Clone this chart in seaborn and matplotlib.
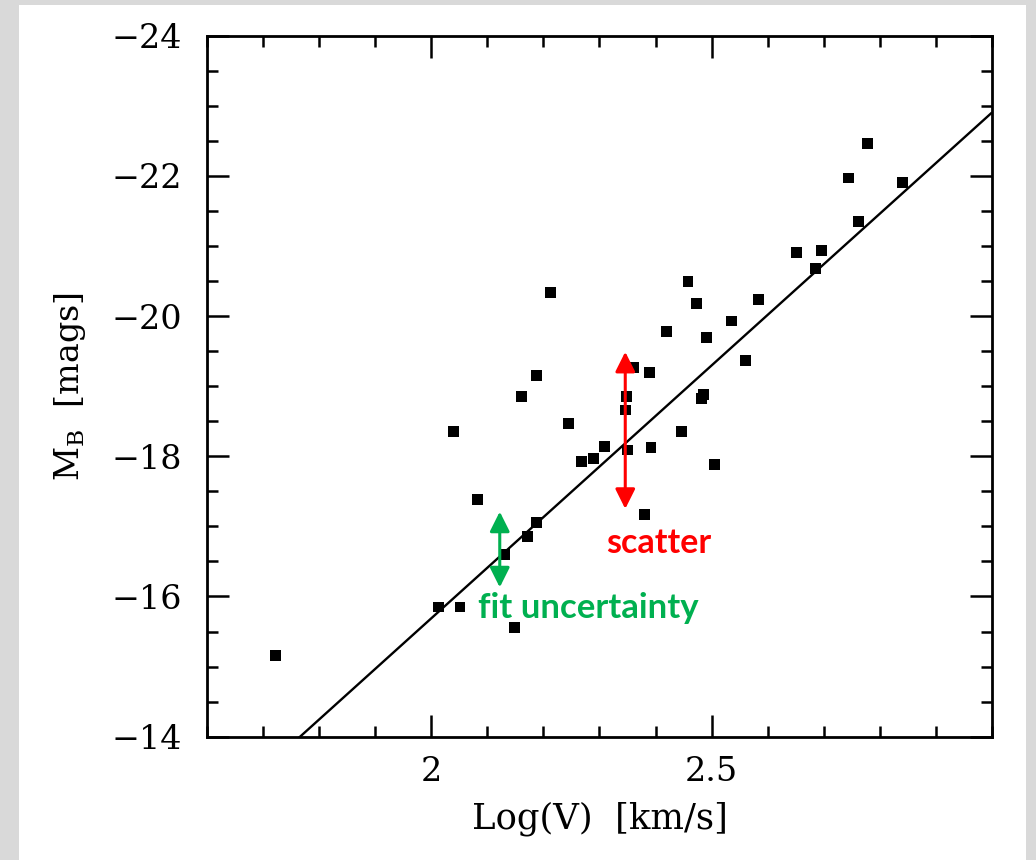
import numpy as np
import pandas as pd
import matplotlib
matplotlib.use("Agg")
import matplotlib.pyplot as plt
from matplotlib.ticker import MultipleLocator, FixedLocator, FixedFormatter
from matplotlib.patches import Rectangle
import seaborn as sns

# ---- data ----
log_v = [1.722, 2.187, 2.161, 2.244, 2.040, 2.268, 2.083, 2.187, 2.172, 2.131,
         2.012, 2.051, 2.148, 2.212, 2.779, 2.745, 2.841, 2.763, 2.652, 2.696,
         2.685, 2.458, 2.474, 2.583, 2.419, 2.535, 2.491, 2.560, 2.361, 2.389,
         2.349, 2.346, 2.486, 2.482, 2.447, 2.309, 2.289, 2.350, 2.392, 2.506,
         2.380]
mag_b = [-15.16, -19.15, -18.85, -18.47, -18.35, -17.93, -17.38, -17.06, -16.85, -16.60,
         -15.85, -15.85, -15.56, -20.33, -22.46, -21.97, -21.91, -21.35, -20.91, -20.93,
         -20.68, -20.49, -20.18, -20.23, -19.78, -19.93, -19.70, -19.37, -19.26, -19.20,
         -18.85, -18.66, -18.88, -18.82, -18.36, -18.14, -17.97, -18.09, -18.12, -17.88,
         -17.17]

fit_slope = -7.21
fit_intercept = -1.27

x_limits = [1.6, 3.0]
y_limits = [-14, -24]
x_major_ticks = [2.0, 2.5]
x_tick_labels = ["2", "2.5"]
y_major_ticks = [-24, -22, -20, -18, -16, -14]
y_tick_labels = ["\u221224", "\u221222", "\u221220", "\u221218", "\u221216", "\u221214"]

scatter_arrow_x = 2.346
scatter_arrow_y = [-17.25, -19.49]
scatter_label = "scatter"
scatter_label_pos = [2.405, -16.62]

fit_arrow_x = 2.122
fit_arrow_y = [-16.13, -17.21]
fit_label = "fit uncertainty"
fit_label_pos = [2.083, -15.69]

red = "#ff0000"
green = "#00b050"

# ---- figure ----
sns.set_theme(style="ticks")
plt.rcParams["font.family"] = ["DejaVu Serif"]
plt.rcParams["mathtext.fontset"] = "dejavuserif"

fig = plt.figure(figsize=(10.36, 8.6), dpi=100)
fig.patch.set_facecolor("#d9d9d9")
fig.patches.append(Rectangle((19 / 1036, 0), (1026 - 19) / 1036, 1 - 5 / 860,
                             transform=fig.transFigure, facecolor="white",
                             edgecolor="none", zorder=-10))

ax = fig.add_axes([0.2001, 0.1434, 0.7571, 0.8151])
ax.set_facecolor("white")

df = pd.DataFrame({"logv": log_v, "mb": mag_b})
sns.scatterplot(data=df, x="logv", y="mb", ax=ax, marker="s", s=62,
                color="black", edgecolor="none", linewidth=0, zorder=3)

line_x = np.array(x_limits)
line_df = pd.DataFrame({"x": line_x, "y": fit_intercept + fit_slope * line_x})
sns.lineplot(data=line_df, x="x", y="y", ax=ax, color="black", lw=1.7, zorder=2)

ax.set_xlim(*x_limits)
ax.set_ylim(*y_limits)

ax.xaxis.set_major_locator(FixedLocator(x_major_ticks))
ax.xaxis.set_major_formatter(FixedFormatter(x_tick_labels))
ax.xaxis.set_minor_locator(MultipleLocator(0.1))
ax.yaxis.set_major_locator(FixedLocator(y_major_ticks))
ax.yaxis.set_major_formatter(FixedFormatter(y_tick_labels))
ax.yaxis.set_minor_locator(MultipleLocator(0.5))

ax.tick_params(which="both", direction="in", top=True, right=True,
               color="black", width=1.8)
ax.tick_params(which="major", length=16)
ax.tick_params(which="minor", length=8)
ax.tick_params(axis="y", which="major", pad=18, labelsize=24, labelcolor="black")
ax.tick_params(axis="x", which="major", pad=14, labelsize=24, labelcolor="black")

for sp in ax.spines.values():
    sp.set_linewidth(2.0)
    sp.set_color("black")

ax.set_xlabel("Log(V)  [km/s]", fontsize=25.5, color="black")
ax.set_ylabel(r"M$_\mathregular{B}$  [mags]", fontsize=24, color="black")
ax.xaxis.set_label_coords(0.5, -0.093)
ax.yaxis.set_label_coords(-0.152, 0.5)

# annotations
arrow_style = "<|-|>,head_length=0.6,head_width=0.3"
ax.annotate("", xy=(scatter_arrow_x, scatter_arrow_y[1]),
            xytext=(scatter_arrow_x, scatter_arrow_y[0]),
            arrowprops=dict(arrowstyle=arrow_style, color=red, lw=2.2,
                            mutation_scale=20, shrinkA=0, shrinkB=0), zorder=4)
ax.annotate("", xy=(fit_arrow_x, fit_arrow_y[1]),
            xytext=(fit_arrow_x, fit_arrow_y[0]),
            arrowprops=dict(arrowstyle=arrow_style, color=green, lw=2.2,
                            mutation_scale=20, shrinkA=0, shrinkB=0), zorder=4)

ax.text(scatter_label_pos[0], scatter_label_pos[1], scatter_label, color=red,
        fontsize=24.5, fontweight="bold", family=["Lato", "DejaVu Sans"],
        ha="center", va="baseline", zorder=5)
ax.text(fit_label_pos[0], fit_label_pos[1], fit_label, color=green,
        fontsize=25, fontweight="bold", family=["Lato", "DejaVu Sans"],
        ha="left", va="baseline", zorder=5)

fig.savefig("out.png", dpi=100, facecolor=fig.get_facecolor())
